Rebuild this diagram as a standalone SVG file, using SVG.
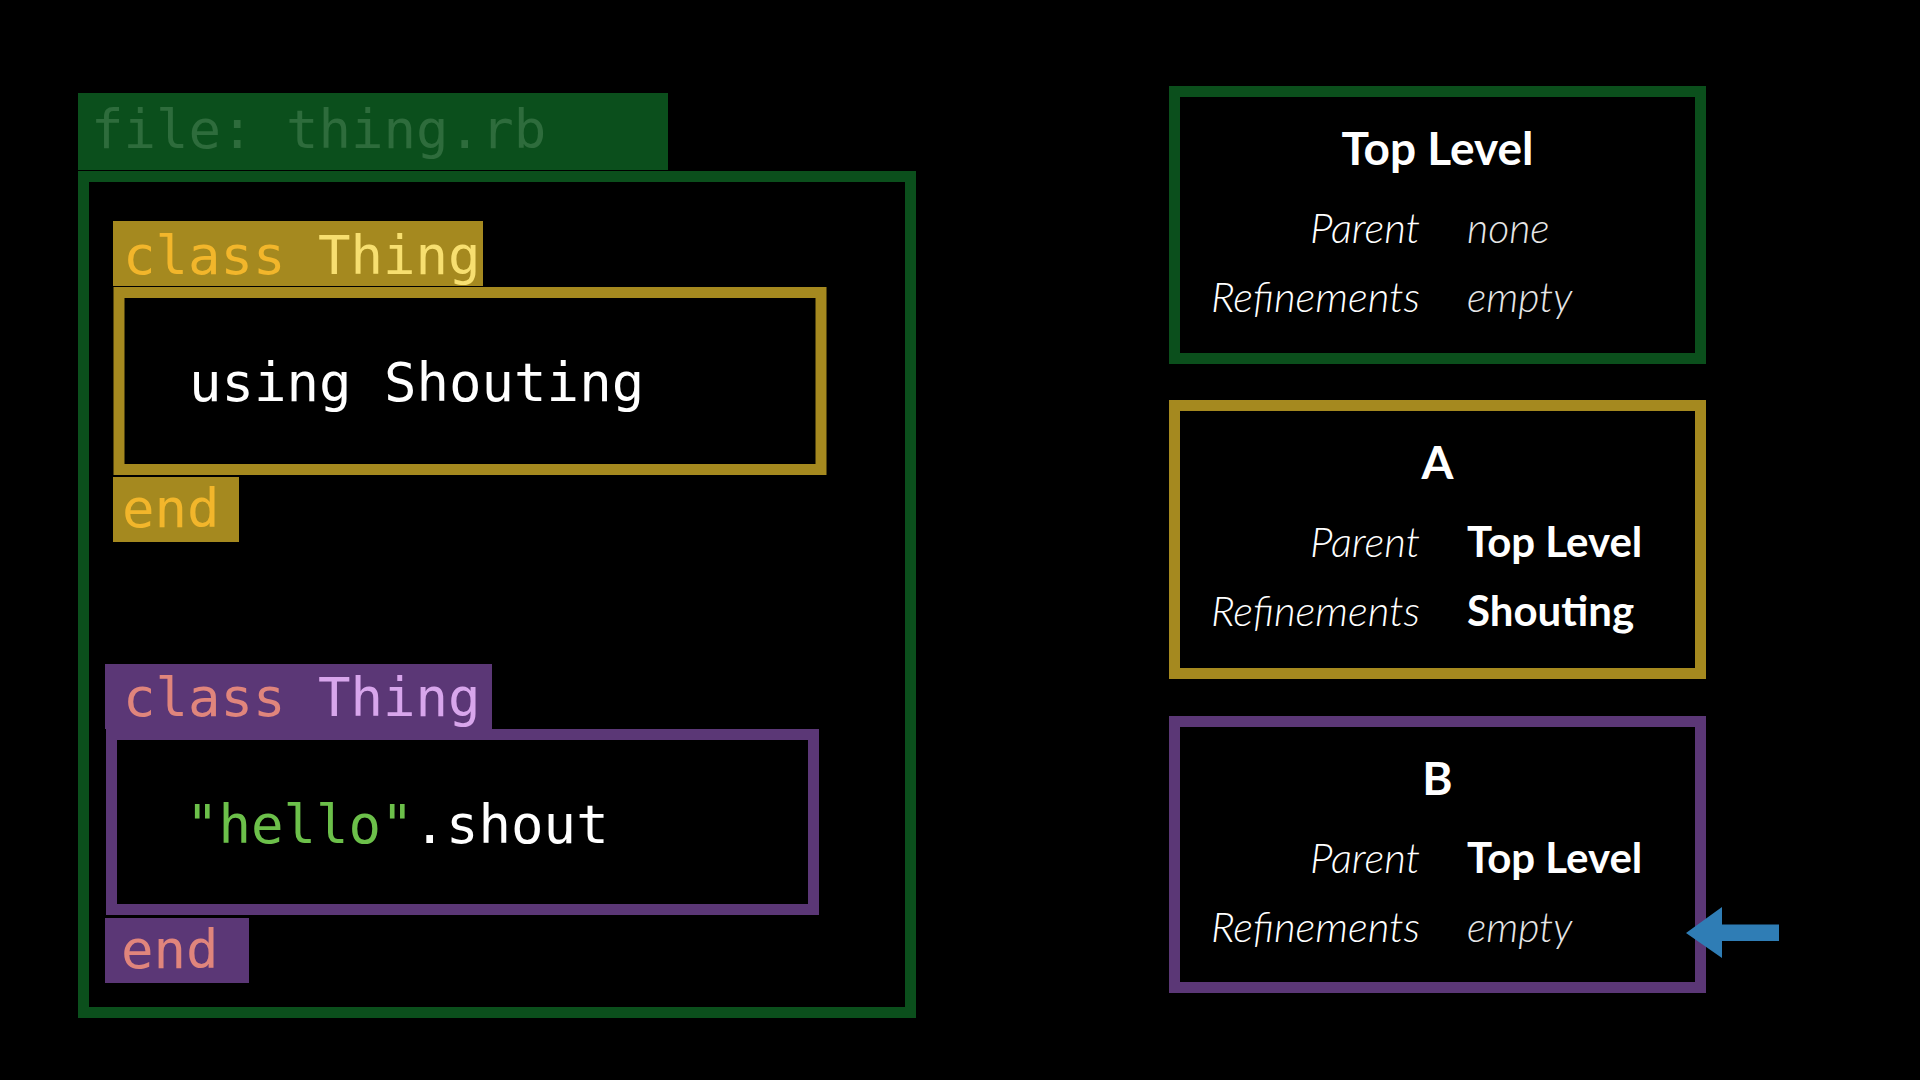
<svg xmlns="http://www.w3.org/2000/svg" width="1920" height="1080" viewBox="0 0 1920 1080">
<defs>
<style>
.mono{font-family:"DejaVu Sans Mono","Liberation Mono",monospace;font-size:54px}
.frame{fill:none;stroke-width:11}
.g{stroke:#0b4f1c}
.y{stroke:#a5891f}
.p{stroke:#5b3776}
.title{font-family:Lato,"Noto Sans",sans-serif;font-weight:700;font-size:46px;fill:#fff;text-anchor:middle}
.lbl{font-family:Lato,"Noto Sans",sans-serif;font-style:italic;font-weight:300;font-size:42px;fill:#fff;text-anchor:end}
.val{font-family:Lato,"Noto Sans",sans-serif;font-weight:700;font-size:42px;fill:#fff}
.vali{font-family:Lato,"Noto Sans",sans-serif;font-style:italic;font-weight:300;font-size:41px;fill:#e6e6e6}
</style>
</defs>
<rect width="1920" height="1080" fill="#000"/>

<g id="file">
<rect x="78" y="93" width="590" height="77" fill="#0b4f1c"/>
<text class="mono" x="91" y="148" fill="#2e6c3c">file: thing.rb</text>
<rect class="frame g" x="83.5" y="176.5" width="827" height="836"/>
</g>

<g id="classA">
<rect x="113" y="221" width="370" height="65" fill="#a5891f"/>
<text class="mono" x="123" y="274"><tspan fill="#f2b62b">class</tspan> <tspan fill="#f7df70">Thing</tspan></text>
<rect class="frame y" x="119" y="292.5" width="702" height="177"/>
<text class="mono" x="189" y="401" fill="#fff">using Shouting</text>
<rect x="113" y="477" width="126" height="65" fill="#a5891f"/>
<text class="mono" x="122" y="527" fill="#f2b62b">end</text>
</g>

<g id="classB">
<rect x="105" y="664" width="387" height="65" fill="#5b3776"/>
<text class="mono" x="123" y="716"><tspan fill="#e0857c">class</tspan> <tspan fill="#d8a6ec">Thing</tspan></text>
<rect class="frame p" x="111.5" y="734.5" width="702" height="175"/>
<text class="mono" x="186" y="843"><tspan fill="#6cc04a">"hello"</tspan><tspan fill="#fff">.shout</tspan></text>
<rect x="105" y="918" width="144" height="65" fill="#5b3776"/>
<text class="mono" x="121" y="968" fill="#e0857c">end</text>
</g>

<g id="scope-top">
<rect class="frame g" x="1174.5" y="91.5" width="526" height="267"/>
<text class="title" x="1437.5" y="165">Top Level</text>
<text class="lbl" x="1420" y="243">Parent</text>
<text class="lbl" x="1420" y="312">Refinements</text>
<text class="vali" x="1467" y="243">none</text>
<text class="vali" x="1467" y="312">empty</text>
</g>

<g id="scope-a">
<rect class="frame y" x="1174.5" y="405.5" width="526" height="268"/>
<text class="title" x="1437.5" y="479">A</text>
<text class="lbl" x="1420" y="557">Parent</text>
<text class="lbl" x="1420" y="626">Refinements</text>
<text class="val" x="1467" y="557">Top Level</text>
<text class="val" x="1467" y="626">Shouting</text>
</g>

<g id="scope-b">
<rect class="frame p" x="1174.5" y="721.5" width="526" height="266"/>
<text class="title" x="1437.5" y="795">B</text>
<text class="lbl" x="1420" y="873">Parent</text>
<text class="lbl" x="1420" y="942">Refinements</text>
<text class="val" x="1467" y="873">Top Level</text>
<text class="vali" x="1467" y="942">empty</text>
</g>

<g id="connectors">
<polygon points="1686,933 1722,907 1722,924.5 1779,924.5 1779,941 1722,941 1722,958" fill="#2f7db5"/>
</g>
</svg>
